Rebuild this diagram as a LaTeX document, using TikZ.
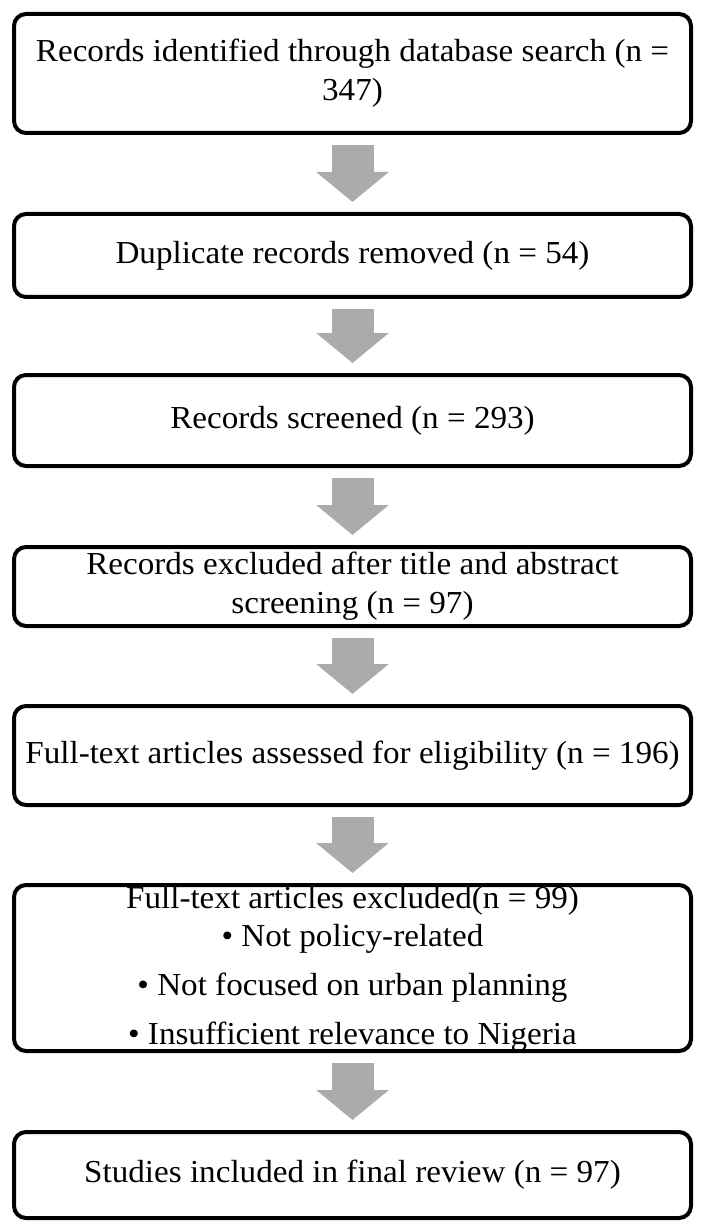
\documentclass[tikz,border=0pt]{standalone}
\usepackage{fontspec}
\setmainfont{Liberation Serif}[FakeStretch=1.035]
\usetikzlibrary{arrows.meta}
\definecolor{arrowgray}{RGB}{171,171,171}
\newcommand\flowfont{\fontsize{32}{39}\selectfont}
\begin{document}
\begin{tikzpicture}[x=1pt,y=1pt,
  flowbox/.style={draw=black, line width=4pt, rounded corners=12pt,
    minimum width=677pt, inner xsep=-20pt, inner ysep=0pt, align=center, font=\flowfont},
  linetext/.style={font=\flowfont, inner sep=0pt, anchor=base},
  bigarrow/.style={draw=arrowgray, line width=42pt,
    -{Triangle[width=71pt,length=30pt]}}]
\useasboundingbox (0,0) rectangle (705,-1230);
\node[flowbox, minimum height=119pt] (b1) at (352.5,-73.5)
  {Records identified through database search (n =\\347)};
\node[flowbox, minimum height=83pt] (b2) at (352.5,-255.5)
  {Duplicate records removed (n = 54)};
\node[flowbox, minimum height=91pt] (b3) at (352.5,-420.5)
  {Records screened (n = 293)};
\node[flowbox, minimum height=79pt] (b4) at (352.5,-586.5)
  {Records excluded after title and abstract\\screening (n = 97)};
\node[flowbox, minimum height=99pt] (b5) at (352.5,-755.5)
  {Full-text articles assessed for eligibility (n = 196)};
\node[flowbox, minimum height=166pt] (b6) at (352.5,-968) {};
\node[linetext] (b6a) at (352.5,-908) {Full-text articles excluded(n = 99)};
\node[linetext] (b6b) at (352.5,-946) {• Not policy-related};
\node[linetext] (b6c) at (352.5,-995) {• Not focused on urban planning};
\node[linetext] (b6d) at (352.5,-1044) {• Insufficient relevance to Nigeria};
\node[flowbox, minimum height=86pt] (b7) at (352.5,-1175)
  {Studies included in final review (n = 97)};
\draw[bigarrow] ([yshift=-10pt]b1.south) -- ([yshift=10pt]b2.north);
\draw[bigarrow] ([yshift=-10pt]b2.south) -- ([yshift=10pt]b3.north);
\draw[bigarrow] ([yshift=-10pt]b3.south) -- ([yshift=10pt]b4.north);
\draw[bigarrow] ([yshift=-10pt]b4.south) -- ([yshift=10pt]b5.north);
\draw[bigarrow] ([yshift=-10pt]b5.south) -- ([yshift=10pt]b6.north);
\draw[bigarrow] ([yshift=-10pt]b6.south) -- ([yshift=10pt]b7.north);
\end{tikzpicture}
\end{document}
